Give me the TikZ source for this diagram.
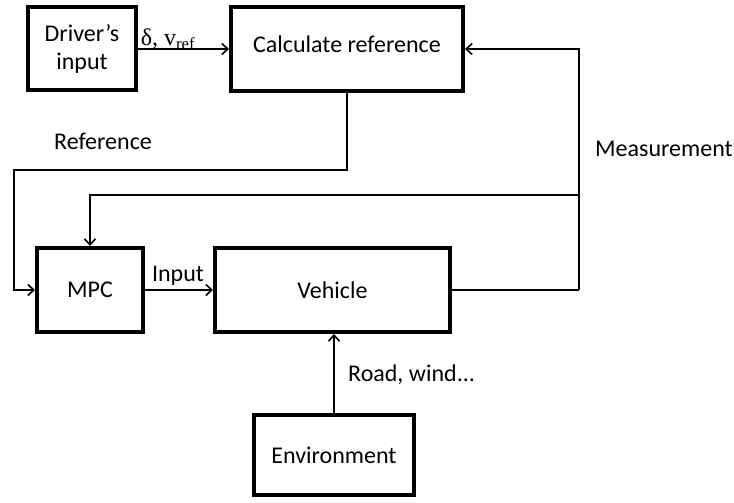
\documentclass[tikz,border=0pt]{standalone}
\usepackage{fontspec}
\setmainfont{Carlito}
\newfontfamily\serifm{Liberation Serif}
\usetikzlibrary{arrows.meta}
\begin{document}
\begin{tikzpicture}[x=1pt,y=-1pt,
  blk/.style={draw, line width=4pt, rectangle, inner sep=0pt, align=center, font=\fontsize{24}{28}\selectfont},
  conn/.style={line width=1.8pt, -{Straight Barb[length=6pt,width=11pt,line width=1.6pt]}},
  lbl/.style={font=\fontsize{24}{28}\selectfont, inner sep=0pt}]
\useasboundingbox (0,0) rectangle (734,503);
\node[blk, minimum width=108pt, minimum height=83pt] (drv) at (82,49) {Driver’s\\input};
\node[blk, minimum width=232pt, minimum height=84pt] (calc) at (347,49) {\raisebox{10pt}{Calculate reference}};
\node[blk, minimum width=106pt, minimum height=84pt] (mpc) at (90,290) {MPC};
\node[blk, minimum width=235pt, minimum height=84pt] (veh) at (332.5,290) {Vehicle};
\node[blk, minimum width=160pt, minimum height=80pt] (env) at (334,455) {Environment};
\coordinate (rl) at (14,170);
\coordinate (mc) at (579,290);
\coordinate (br) at (579,195);
\draw[conn] (drv.east) -- (calc.west);
\draw[conn] (calc.south) |- (rl) |- (mpc.west);
\draw[line width=2.6pt] (veh.east) -- (mc);
\draw[conn] (mc) |- (calc.east);
\draw[conn] (br) -| (mpc.north);
\draw[conn] (mpc.east) -- (veh.west);
\draw[conn] (env.north) -- (env.north |- veh.south);
\node[lbl] (tdelta) at (168,39) {\serifm δ, v\textsubscript{ref}};
\node[lbl] (tref) at (103,141) {Reference};
\node[lbl, anchor=west] (tmeas) at (595,149) {Measurement};
\node[lbl] (tin) at (178,276) {Input};
\node[lbl, anchor=west] (troad) at (348,375) {Road, wind...};
\end{tikzpicture}
\end{document}
